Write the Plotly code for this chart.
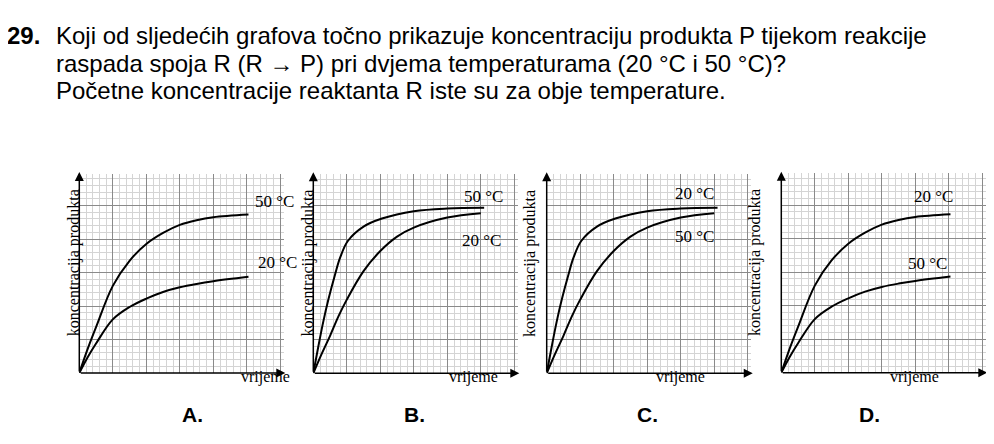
import plotly.graph_objects as go

W, H = 994, 444
DX, DY = -8, -8  # compensate page body margin
panel_letters = ["A.", "B.", "C.", "D."]
origins_px = [(79.3, 373), (313.3, 373.3), (546.7, 373.3), (781.3, 372.7)]

t_slow = [0, 0.25, 0.5, 1, 1.5, 2, 2.5, 3, 3.5, 4, 5.05]
A_hi = [0, 0.72, 1.37, 2.6, 3.35, 3.85, 4.18, 4.42, 4.56, 4.65, 4.73]
A_lo = [0, 0.47, 0.88, 1.6, 1.97, 2.22, 2.42, 2.56, 2.66, 2.74, 2.87]
t_fast = [0, 0.15, 0.3, 0.45, 0.65, 0.8, 1.03, 1.5, 2.05, 3, 4, 5.1]
B_hi = [0, 0.8, 1.55, 2.2, 2.95, 3.45, 3.95, 4.38, 4.62, 4.84, 4.92, 4.94]
t_mid = [0, 0.25, 0.5, 0.75, 1, 1.5, 2, 2.5, 3, 4, 5]
B_lo = [0, 0.58, 1.12, 1.7, 2.2, 3.05, 3.65, 4.08, 4.35, 4.65, 4.78]

curves = [
    [(t_slow, A_hi), (t_slow, A_lo)],
    [(t_fast, B_hi), (t_mid, B_lo)],
    [(t_fast, B_hi), (t_mid, B_lo)],
    [(t_slow, A_hi), (t_slow, A_lo)],
]
labels = [
    [("50 °C", 253, 201), ("20 °C", 256, 262)],
    [("50 °C", 483, 196), ("20 °C", 481, 240)],
    [("20 °C", 716, 193), ("50 °C", 716, 237)],
    [("20 °C", 955, 196), ("50 °C", 949, 263)],
]
XMAX, YMAX, UNIT = 6.1, 5.95, 33.5

def px(x):
    return (x + DX) / W

def py(y):
    return 1 - (y + DY) / H

fig = go.Figure()
ann = []
for i in range(4):
    ox, oy = origins_px[i]
    xa = "xaxis" if i == 0 else f"xaxis{i+1}"
    ya = "yaxis" if i == 0 else f"yaxis{i+1}"
    xr = "x" if i == 0 else f"x{i+1}"
    yr = "y" if i == 0 else f"y{i+1}"
    grid = dict(showgrid=True, gridcolor="#8a8a8a", gridwidth=1, dtick=1,
                minor=dict(dtick=0.2, showgrid=True, gridcolor="#d4d4d4", gridwidth=0.6),
                showticklabels=False, ticks="", zeroline=False, showline=False, fixedrange=True)
    fig.layout[xa] = dict(grid, range=[0, XMAX], anchor=yr,
                          domain=[px(ox), px(ox + XMAX * UNIT)])
    fig.layout[ya] = dict(grid, range=[0, YMAX], anchor=xr,
                          domain=[py(oy), py(oy - YMAX * UNIT)])
    for (tx, ty) in curves[i]:
        fig.add_trace(go.Scatter(x=tx, y=ty, mode="lines",
                                 line=dict(color="black", width=2, shape="spline", smoothing=1.0),
                                 xaxis=xr, yaxis=yr, showlegend=False, hoverinfo="skip"))
    ann.append(dict(x=XMAX + 0.05, y=0, ax=0, ay=0, xref=xr, yref=yr, axref=xr, ayref=yr,
                    showarrow=True, arrowhead=2, arrowsize=1.2, arrowwidth=1.5, arrowcolor="black", text=""))
    ann.append(dict(x=0, y=YMAX + 0.05, ax=0, ay=0, xref=xr, yref=yr, axref=xr, ayref=yr,
                    showarrow=True, arrowhead=2, arrowsize=1.2, arrowwidth=1.5, arrowcolor="black", text=""))
    for (txt, lx, ly) in labels[i]:
        ann.append(dict(x=px(lx), y=py(ly), xref="paper", yref="paper", text=txt, showarrow=False,
                        font=dict(family="Liberation Serif", size=17, color="black")))
    ann.append(dict(x=px(ox + 160), y=py(388), xref="paper", yref="paper", text="vrijeme", showarrow=False,
                    font=dict(family="Liberation Serif", size=16, color="black")))
    ann.append(dict(x=px(ox - 16), y=py(oy - 110), xref="paper", yref="paper", text="koncentracija produkta",
                    textangle=-90, showarrow=False, font=dict(family="Liberation Serif", size=16, color="black")))
    ann.append(dict(x=px(ox + 101), y=py(428), xref="paper", yref="paper", text=f"<b>{panel_letters[i]}</b>",
                    showarrow=False, font=dict(family="Liberation Sans", size=21, color="black")))

title_lines = [
    "Koji od sljedećih grafova točno prikazuje koncentraciju produkta P tijekom reakcije",
    "raspada spoja R (R → P) pri dvjema temperaturama (20 °C i 50 °C)?",
    "Početne koncentracije reaktanta R iste su za obje temperature.",
]
ann.append(dict(x=px(5), y=py(20), xref="paper", yref="paper", text="<b>29.</b>", showarrow=False,
                xanchor="left", font=dict(family="Liberation Sans", size=24, color="black")))
for j, line in enumerate(title_lines):
    ann.append(dict(x=px(54), y=py(20 + 27.5 * j), xref="paper", yref="paper", text=line, showarrow=False,
                    xanchor="left", font=dict(family="Liberation Sans", size=24, color="black")))

fig.update_layout(width=W, height=H, margin=dict(l=0, r=0, t=0, b=0), paper_bgcolor="white",
                  plot_bgcolor="white", annotations=ann)
fig.write_html("out.html", config={"displayModeBar": False})
